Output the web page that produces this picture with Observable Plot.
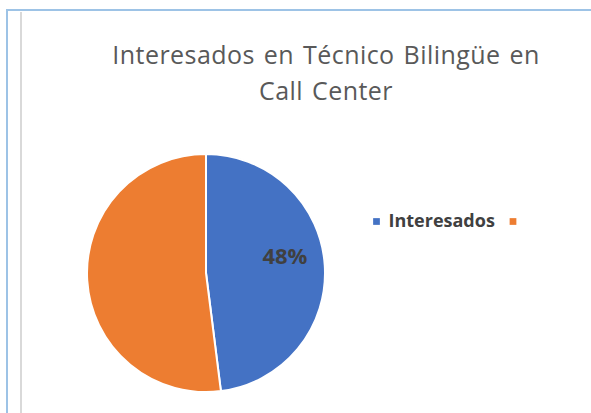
<!DOCTYPE html>
<html>
<head>
<meta charset="utf-8">
<script src="https://cdn.jsdelivr.net/npm/d3@7"></script>
<script src="https://cdn.jsdelivr.net/npm/@observablehq/plot@0.6"></script>
<style>
  html, body { margin: 0; padding: 0; background: #fff; }
  #wrap { position: relative; width: 591px; height: 413px; overflow: hidden; background: #fff; }
  #wrap svg { position: absolute; left: 0; top: 0; }
  .bl { position: absolute; background: #9DC3E6; }
  .gl { position: absolute; background: #D9D9D9; }
</style>
</head>
<body>
<div id="wrap">
  <div class="bl" style="left:6px; top:9px; width:585px; height:2px;"></div>
  <div class="bl" style="left:6px; top:9px; width:2px; height:404px;"></div>
  <div class="gl" style="left:20px; top:12px; width:2px; height:401px;"></div>
</div>
<script>
const titleText = "Interesados en Técnico Bilingüe en\nCall Center";
const categories = ["Interesados", "No interesados"];
const legendLabels = ["Interesados", ""];
const values = [48, 52];
const dataLabels = ["48%", ""];
const colors = ["#4472C4", "#ED7D31"];

const data = categories.map((c, i) => ({category: c, value: values[i], label: dataLabels[i]}));
const arcs = d3.pie().sort(null).value(d => d.value)(data);
const labelData = arcs.filter(a => a.data.label).map(a => {
  const mid = (a.startAngle + a.endAngle) / 2;
  return {label: a.data.label, x: 0.66 * Math.sin(mid), y: 0.66 * Math.cos(mid)};
});

function pieMark(index, scales, values, dimensions, context) {
  const cx = scales.x(0), cy = scales.y(0);
  const r = Math.abs(scales.x(1) - scales.x(0));
  const arc = d3.arc().innerRadius(0).outerRadius(r);
  const g = d3.create("svg:g").attr("transform", `translate(${cx},${cy})`);
  g.selectAll("path").data(arcs).join("path")
    .attr("d", arc)
    .attr("fill", d => scales.color(d.data.category))
    .attr("stroke", "#fff")
    .attr("stroke-width", 2)
    .attr("stroke-linejoin", "round");
  return g.node();
}

const plot = Plot.plot({
  width: 591,
  height: 413,
  margin: 0,
  style: {background: "transparent", fontFamily: "'Open Sans', sans-serif"},
  x: {domain: [-1, 1], range: [87, 325], axis: null},
  y: {domain: [-1, 1], range: [391, 155], axis: null},
  color: {domain: categories, range: colors},
  marks: [
    pieMark,
    Plot.text(labelData, {x: "x", y: "y", text: "label", dy: -12, fontSize: 22, fontWeight: "bold", fill: "#404040"}),
    Plot.text([titleText], {frameAnchor: "top", dx: 30, dy: 38, fontSize: 25, lineHeight: 1.44, fill: "#595959", text: d => d}),
    Plot.dot([categories[0]], {frameAnchor: "top-left", dx: 376, dy: 221, fill: d => d, symbol: "square", r: 3.8}),
    Plot.text([legendLabels[0]], {frameAnchor: "top-left", dx: 388, dy: 221, textAnchor: "start", lineAnchor: "middle", fontSize: 18, fontWeight: "bold", fill: "#404040", text: d => d}),
    Plot.dot([categories[1]], {frameAnchor: "top-left", dx: 512.5, dy: 221, fill: d => d, symbol: "square", r: 3.8}),
    Plot.text([legendLabels[1]], {frameAnchor: "top-left", dx: 524, dy: 221, textAnchor: "start", lineAnchor: "middle", fontSize: 18, fontWeight: "bold", fill: "#404040", text: d => d})
  ]
});
d3.select(plot).selectAll("text").filter(function() { return this.textContent.startsWith("Interesados en"); })
  .style("letter-spacing", "0.45px").style("word-spacing", "2px");
document.getElementById("wrap").appendChild(plot);
</script>
</body>
</html>
